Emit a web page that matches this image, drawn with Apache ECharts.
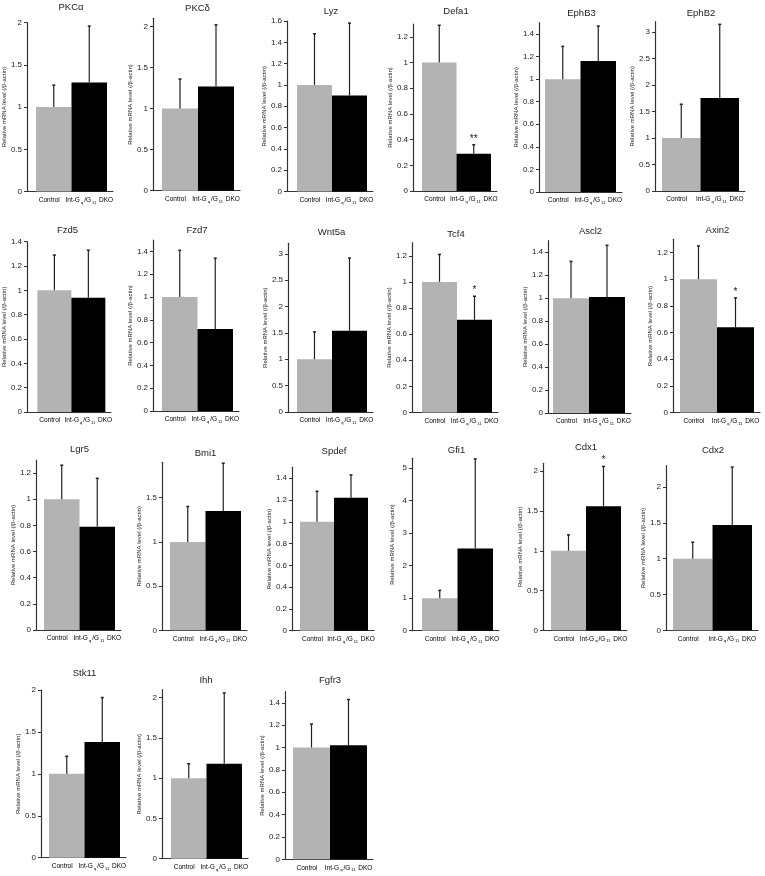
<!DOCTYPE html>
<html>
<head>
<meta charset="utf-8">
<script src="https://cdn.jsdelivr.net/npm/echarts@6/dist/echarts.min.js"></script>
<style>
  html, body { margin: 0; padding: 0; background: #fff; }
  #main { width: 765px; height: 876px; }
</style>
</head>
<body>
<div id="main"></div>
<script>
// 基因名 (每个小图的标题)
var genes = ['PKCα', 'PKCδ', 'Lyz', 'Defa1', 'EphB3', 'EphB2',
  'Fzd5', 'Fzd7', 'Wnt5a', 'Tcf4', 'Ascl2', 'Axin2',
  'Lgr5', 'Bmi1', 'Spdef', 'Gfi1', 'Cdx1', 'Cdx2',
  'Stk11', 'Ihh', 'Fgfr3']
// 横轴两组 (rich 文本, 下标)
var categories = ['{t|Control}{s| }', '{t|Int-G}{s|q}{t|/G}{s|11}{t| DKO}']

// 平均值 + 误差 (只画上半部分)
var ctrlMean = [1, 1, 1, 1, 1, 1, 1, 1, 1, 1, 1, 1, 1, 1, 1, 1, 1, 1, 1, 1, 1]
var ctrlErr = [0.26, 0.36, 0.48, 0.29, 0.29, 0.64, 0.29, 0.41, 0.52, 0.21, 0.32, 0.25,
  0.26, 0.40, 0.28, 0.24, 0.20, 0.23, 0.21, 0.18, 0.21]
var dkoMean = [1.29, 1.27, 0.90, 0.29, 1.16, 1.76, 0.94, 0.72, 1.54, 0.71, 1.01, 0.64,
  0.79, 1.35, 1.22, 2.53, 1.56, 1.47, 1.38, 1.18, 1.02]
var dkoErr = [0.67, 0.75, 0.68, 0.07, 0.31, 1.39, 0.39, 0.62, 1.38, 0.18, 0.45, 0.22,
  0.37, 0.54, 0.21, 2.75, 0.50, 0.81, 0.53, 0.88, 0.41]
var stars = ['', '', '', '**', '', '', '', '', '', '*', '', '*', '', '', '', '', '*', '', '', '', '']

// y轴范围和刻度间隔
var yMax = [2, 2.1, 1.6, 1.3, 1.5, 3.2, 1.4, 1.5, 3.2, 1.3, 1.5, 1.3,
  1.3, 1.9, 1.5, 5.3, 2.1, 2.3, 2, 2.1, 1.5]
var yStep = [0.5, 0.5, 0.2, 0.2, 0.2, 0.5, 0.2, 0.2, 0.5, 0.2, 0.2, 0.2,
  0.2, 0.5, 0.2, 1, 0.5, 0.5, 0.5, 0.5, 0.2]

// 位置: [y轴x, 柱子左, 柱子右, 0的位置, 轴顶部, 标题y]
var layout = [
  [27, 36, 107, 191.5, 22.7, 7],
  [153, 162, 234, 190.7, 18.3, 8],
  [287, 297, 367, 191.5, 21, 11],
  [413, 422, 491, 191, 24, 11],
  [539, 545, 616, 192, 22.7, 13],
  [655, 662, 739, 191, 21.7, 13],
  [22, 33, 105, 412, 241.7, 230],
  [153, 162, 233, 411, 240, 230],
  [288, 297, 367, 412, 243.3, 232],
  [412, 422, 492, 412.5, 242.7, 234],
  [548, 553, 625, 413, 240.7, 231],
  [673, 680, 754, 412.5, 239.3, 230],
  [36, 44, 115, 630, 460, 449],
  [162, 170, 241, 630.3, 462.3, 453],
  [292, 300, 368, 630.7, 467.3, 451],
  [412, 422, 493, 630.7, 458.3, 450],
  [543, 551, 621, 630.3, 463.3, 447],
  [666, 673, 752, 630.3, 465.7, 450],
  [41, 49, 120, 857.7, 690, 673],
  [162, 171, 242, 858.7, 689.7, 680],
  [285, 293, 367, 859.3, 691.7, 680]
]

var font = 'Liberation Sans, Arial, sans-serif'
var labelRich = {
  t: { fontSize: 6.5, fontFamily: font, color: '#222' },
  s: { fontSize: 4, fontFamily: font, color: '#222', padding: [5, 1, 0, 1] }
}
var grid = [], xAxis = [], yAxis = [], series = [], graphic = []

genes.forEach(function (name, i) {
  var p = layout[i]
  var unit = (p[2] - p[1]) / 2
  var right = p[2] + 6
  grid.push({
    left: p[0], top: p[4],
    width: right - p[0], height: p[3] - p[4]
  })
  // y轴刻度
  var ticks = []
  for (var k = 0; k * yStep[i] <= yMax[i] + 1e-9; k++) {
    ticks.push(+(k * yStep[i]).toFixed(2))
  }
  xAxis.push({
    type: 'value', gridIndex: i,
    min: 0.5 - (p[1] - p[0]) / unit,
    max: 2.5 + (right - p[2]) / unit,
    splitLine: { show: false },
    axisLine: { lineStyle: { color: '#333', width: 1.2 } },
    axisTick: { show: false },
    axisLabel: { show: false }
  })
  yAxis.push({
    type: 'value', gridIndex: i,
    min: 0, max: yMax[i],
    name: 'Relative mRNA level (/β-actin)',
    nameLocation: 'middle',
    nameGap: 17,
    nameTextStyle: { fontSize: 6, fontFamily: font, color: '#222' },
    splitLine: { show: false },
    axisLine: { show: true, lineStyle: { color: '#333', width: 1.2 } },
    axisTick: { show: true, length: 3, customValues: ticks, lineStyle: { color: '#333' } },
    axisLabel: { customValues: ticks, margin: 5, fontSize: 8, fontFamily: font, color: '#222' }
  })
  series.push({
    type: 'custom',
    xAxisIndex: i, yAxisIndex: i,
    clip: false,
    data: [
      [1, ctrlMean[i], ctrlErr[i], 0],
      [2, dkoMean[i], dkoErr[i], 1]
    ],
    renderItem: function (params, api) {
      var x = api.value(0), m = api.value(1), e = api.value(2), g = api.value(3)
      var a = api.coord([x - 0.5, m])
      var b = api.coord([x + 0.5, 0])
      var base = api.coord([x, 0])
      var top = api.coord([x, m + e])
      var mid = api.coord([x, m])
      var kids = [
        {
          type: 'rect',
          shape: { x: a[0], y: a[1], width: b[0] - a[0], height: b[1] - a[1] },
          style: { fill: g ? '#000' : '#b3b3b3' }
        },
        {
          type: 'line',
          shape: { x1: top[0], y1: top[1], x2: mid[0], y2: mid[1] },
          style: { stroke: '#222', lineWidth: 1.2 }
        },
        {
          type: 'line',
          shape: { x1: top[0] - 1.5, y1: top[1], x2: top[0] + 1.5, y2: top[1] },
          style: { stroke: '#222', lineWidth: 1.5 }
        },
        {
          // 横轴文字
          type: 'text',
          style: {
            text: categories[g], rich: labelRich,
            x: base[0] - (g ? 0 : 3), y: base[1] + 4,
            align: 'center', verticalAlign: 'top'
          }
        }
      ]
      var s = stars[params.seriesIndex]
      if (g && s) {
        kids.push({
          type: 'text',
          style: {
            text: s, x: top[0], y: top[1] - 1,
            align: 'center', verticalAlign: 'bottom',
            fontSize: 10, fontFamily: font, fill: '#222'
          }
        })
      }
      return { type: 'group', children: kids }
    }
  })
  graphic.push({
    type: 'text',
    x: (p[0] + right) / 2 + 1, y: p[5],
    style: {
      text: name, align: 'center', verticalAlign: 'middle',
      fontSize: 9.5, fontFamily: font, fill: '#222'
    }
  })
})

var myChart = echarts.init(document.getElementById('main'))
myChart.setOption({
  animation: false,
  grid: grid,
  xAxis: xAxis,
  yAxis: yAxis,
  series: series,
  graphic: graphic
})
</script>
</body>
</html>
